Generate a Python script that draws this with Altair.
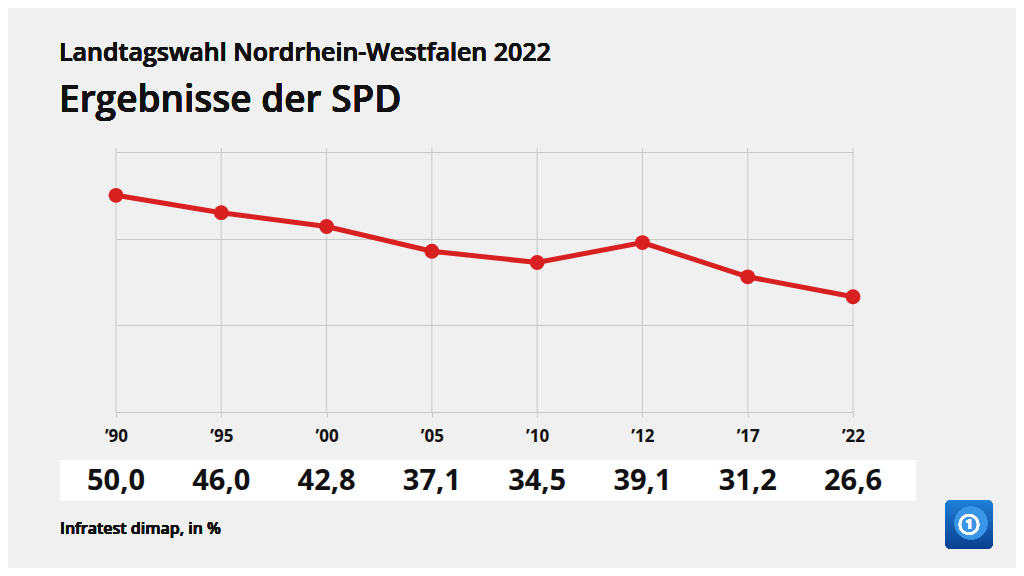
import altair as alt
import pandas as pd

years = ["’90", "’95", "’00", "’05", "’10", "’12", "’17", "’22"]
values = [50.0, 46.0, 42.8, 37.1, 34.5, 39.1, 31.2, 26.6]
y_grid = [0, 20, 40, 60]

title_small = "Landtagswahl Nordrhein-Westfalen 2022"
title_big = "Ergebnisse der SPD"
source = "Infratest dimap, in %"

df = pd.DataFrame({"year": years, "value": values})
df["label"] = [f"{v:.1f}".replace(".", ",") for v in values]

FONT = "Open Sans"
RED = "#d7201f"
W, H = 737, 260

xenc = alt.X("year:N", sort=years,
             scale=alt.Scale(type="point", padding=0),
             axis=alt.Axis(title=None, domain=False, grid=False, ticks=True,
                           tickColor="#c8c8c8", tickSize=5, labelAngle=0,
                           labelFont=FONT, labelFontSize=17, labelFontWeight="bold",
                           labelColor="#111111", labelPadding=11))
yscale = alt.Scale(domain=[0, 60])

base = alt.Chart(df)

vgrid = base.mark_rule(color="#c8c8c8", strokeWidth=1).encode(
    x=xenc, y=alt.value(-4), y2=alt.value(H))

hgrid = base.mark_line(opacity=0).encode(
    x=xenc,
    y=alt.Y("value:Q", scale=yscale,
            axis=alt.Axis(values=y_grid, title=None, labels=False, ticks=False,
                          domain=False, grid=True, gridColor="#c8c8c8", gridWidth=1)))

line = base.mark_line(color=RED, strokeWidth=5).encode(
    x=xenc, y=alt.Y("value:Q", scale=yscale))
pts = base.mark_circle(color=RED, size=220, opacity=1).encode(
    x=xenc, y=alt.Y("value:Q", scale=yscale))

box = base.mark_rect(color="white").encode(
    x=alt.value(-56), x2=alt.value(800), y=alt.value(308), y2=alt.value(349))

vals = base.mark_text(font=FONT, fontSize=29, fontWeight="bold", color="#111111",
                      baseline="middle").encode(
    x=xenc, y=alt.value(329), text="label:N")

t1 = base.mark_text(font=FONT, fontSize=25, fontWeight=600, color="#111111",
                    align="left", baseline="alphabetic").encode(
    x=alt.value(-57), y=alt.value(-91), text=alt.value(title_small))
t2 = base.mark_text(font=FONT, fontSize=37, fontWeight=600, color="#111111",
                    align="left", baseline="alphabetic").encode(
    x=alt.value(-57), y=alt.value(-40), text=alt.value(title_big))
foot = base.mark_text(font=FONT, fontSize=16, fontWeight=600, color="#111111",
                      align="left", baseline="alphabetic").encode(
    x=alt.value(-56), y=alt.value(382), text=alt.value(source))

logo_bg = base.mark_rect(cornerRadius=6, color=alt.Gradient(
    gradient="linear", x1=0, y1=0, x2=0, y2=1,
    stops=[alt.GradientStop(color="#1f7fd6", offset=0),
           alt.GradientStop(color="#0a3f8f", offset=1)])).encode(
    x=alt.value(829), x2=alt.value(877), y=alt.value(348), y2=alt.value(397))
logo_glow = base.mark_circle(color="#3a96e6", size=1100, opacity=0.6).encode(
    x=alt.value(855), y=alt.value(371))
logo_ring = base.mark_point(shape="circle", size=340, color="white", strokeWidth=2.5,
                            filled=False).encode(x=alt.value(853), y=alt.value(372.5))
logo_one = base.mark_text(font=FONT, fontSize=14, fontWeight="bold", color="white",
                          baseline="middle").encode(
    x=alt.value(853), y=alt.value(373), text=alt.value("1"))

chart = alt.layer(box, vgrid, hgrid, line, pts, vals, t1, t2, foot,
                  logo_bg, logo_glow, logo_ring, logo_one).properties(
    width=W, height=H,
    autosize=alt.AutoSizeParams(type="none"),
    padding={"left": 108, "top": 144, "right": 163, "bottom": 156},
    background="#f0f0f0",
).configure_view(stroke=None)

chart.save("out.html", embed_options={"renderer": "svg", "actions": False})
